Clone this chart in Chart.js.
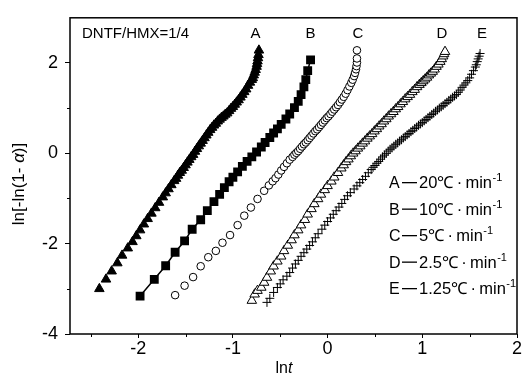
<!DOCTYPE html>
<html>
<head>
<meta charset="utf-8">
<script src="https://cdn.jsdelivr.net/npm/chart.js@4"></script>
<style>
  body { margin: 0; background: #fff; }
</style>
</head>
<body>
<canvas id="chart" width="527" height="376"></canvas>
<script>
// curve names and heating rates (°C/min)
const curveNames = ['A', 'B', 'C', 'D', 'E'];
const heatingRates = ['20', '10', '5', '2.5', '1.25'];
const xTicks = [-2.5, -2, -1.5, -1, -0.5, 0, 0.5, 1, 1.5, 2];
const yTicks = [-4, -3, -2, -1, 0, 1, 2];

// [ln t, ln[-ln(1-a)]]
const seriesA = [[-2.41,-3.00],[-2.34,-2.79],[-2.28,-2.61],[-2.22,-2.43],[-2.17,-2.26],[-2.11,-2.10],
  [-2.06,-1.96],[-2.02,-1.83],[-1.98,-1.70],[-1.94,-1.57],[-1.90,-1.45],[-1.86,-1.33],[-1.82,-1.21],
  [-1.78,-1.09],[-1.74,-0.97],[-1.71,-0.88],[-1.68,-0.79],[-1.65,-0.70],[-1.62,-0.61],[-1.60,-0.56],
  [-1.58,-0.49],[-1.56,-0.43],[-1.54,-0.38],[-1.52,-0.32],[-1.50,-0.26],[-1.48,-0.20],[-1.46,-0.14],
  [-1.44,-0.08],[-1.42,-0.03],[-1.40,0.04],[-1.38,0.10],[-1.36,0.16],[-1.34,0.22],[-1.32,0.28],
  [-1.30,0.34],[-1.28,0.40],[-1.26,0.46],[-1.24,0.52],[-1.22,0.57],[-1.20,0.62],[-1.18,0.66],
  [-1.16,0.71],[-1.14,0.75],[-1.12,0.79],[-1.10,0.82],[-1.08,0.86],[-1.06,0.89],[-1.04,0.94],
  [-1.02,0.99],[-1.00,1.03],[-0.98,1.08],[-0.96,1.13],[-0.94,1.18],[-0.92,1.24],[-0.90,1.30],
  [-0.88,1.36],[-0.86,1.42],[-0.84,1.50],[-0.82,1.57],[-0.80,1.63],[-0.79,1.67],[-0.78,1.73],
  [-0.77,1.79],[-0.76,1.85],[-0.75,1.92],[-0.745,1.98],[-0.74,2.04],[-0.735,2.11],[-0.73,2.18],
  [-0.725,2.28]];

const seriesB = [[-1.98,-3.16],[-1.83,-2.79],[-1.71,-2.49],[-1.61,-2.19],[-1.51,-1.94],[-1.43,-1.68],
  [-1.34,-1.47],[-1.27,-1.27],[-1.20,-1.07],[-1.14,-0.91],[-1.09,-0.76],[-1.04,-0.63],[-1.00,-0.53],
  [-0.95,-0.41],[-0.90,-0.29],[-0.85,-0.18],[-0.80,-0.08],[-0.75,0.03],[-0.70,0.14],[-0.66,0.24],
  [-0.61,0.35],[-0.57,0.45],[-0.53,0.54],[-0.49,0.64],[-0.44,0.76],[-0.40,0.87],[-0.35,1.01],
  [-0.31,1.15],[-0.28,1.30],[-0.25,1.47],[-0.23,1.63],[-0.21,1.83],[-0.18,2.07]];

const seriesC = [[-1.61,-3.14],[-1.51,-2.93],[-1.42,-2.74],[-1.34,-2.50],[-1.26,-2.30],[-1.18,-2.16],
  [-1.11,-1.98],[-1.03,-1.81],[-0.95,-1.59],[-0.88,-1.38],[-0.81,-1.20],[-0.74,-1.01],[-0.67,-0.83],
  [-0.62,-0.71],[-0.58,-0.62],[-0.55,-0.55],[-0.52,-0.47],[-0.49,-0.38],[-0.46,-0.30],[-0.43,-0.22],
  [-0.40,-0.14],[-0.37,-0.08],[-0.35,-0.03],[-0.33,0.01],[-0.31,0.05],[-0.29,0.10],[-0.27,0.15],
  [-0.25,0.20],[-0.23,0.24],[-0.21,0.29],[-0.19,0.34],[-0.17,0.39],[-0.15,0.44],[-0.13,0.49],
  [-0.11,0.53],[-0.09,0.58],[-0.07,0.63],[-0.05,0.68],[-0.03,0.73],[-0.01,0.78],[0.01,0.82],
  [0.03,0.87],[0.05,0.92],[0.07,0.97],[0.09,1.02],[0.11,1.07],[0.13,1.13],[0.15,1.19],[0.17,1.25],
  [0.19,1.32],[0.21,1.40],[0.23,1.48],[0.25,1.56],[0.265,1.63],[0.28,1.71],[0.29,1.78],[0.30,1.86],
  [0.305,1.93],[0.31,2.01],[0.31,2.10],[0.31,2.28]];

const seriesD = [[-0.80,-3.26],[-0.77,-3.12],[-0.74,-3.04],[-0.70,-2.97],[-0.67,-2.86],[-0.64,-2.75],
  [-0.60,-2.61],[-0.57,-2.50],[-0.53,-2.39],[-0.49,-2.28],[-0.46,-2.16],[-0.42,-2.04],[-0.38,-1.92],
  [-0.35,-1.81],[-0.31,-1.70],[-0.28,-1.59],[-0.24,-1.47],[-0.21,-1.35],[-0.17,-1.23],[-0.14,-1.12],
  [-0.10,-1.01],[-0.07,-0.91],[-0.03,-0.81],[0.00,-0.72],[0.04,-0.62],[0.07,-0.53],[0.11,-0.43],
  [0.145,-0.33],[0.17,-0.26],[0.195,-0.19],[0.22,-0.13],[0.245,-0.06],[0.27,0.00],[0.295,0.05],
  [0.32,0.11],[0.345,0.16],[0.37,0.22],[0.395,0.27],[0.42,0.33],[0.445,0.38],[0.47,0.43],[0.495,0.49],
  [0.52,0.54],[0.545,0.60],[0.57,0.65],[0.595,0.71],[0.62,0.76],[0.645,0.82],[0.67,0.87],[0.695,0.92],
  [0.72,0.98],[0.745,1.03],[0.77,1.09],[0.795,1.14],[0.82,1.20],[0.845,1.25],[0.87,1.30],[0.895,1.36],
  [0.92,1.41],[0.945,1.47],[0.97,1.52],[0.99,1.56],[1.01,1.60],[1.03,1.64],[1.05,1.68],[1.07,1.73],
  [1.09,1.77],[1.11,1.81],[1.13,1.86],[1.15,1.92],[1.17,1.97],[1.19,2.03],[1.205,2.09],[1.22,2.15],
  [1.23,2.20],[1.24,2.25]];

const seriesE = [[-0.64,-3.30],[-0.61,-3.21],[-0.57,-3.08],[-0.53,-2.97],[-0.50,-2.89],[-0.47,-2.80],
  [-0.43,-2.72],[-0.40,-2.64],[-0.37,-2.54],[-0.34,-2.45],[-0.31,-2.37],[-0.28,-2.28],[-0.25,-2.20],
  [-0.22,-2.12],[-0.19,-2.04],[-0.16,-1.96],[-0.13,-1.87],[-0.10,-1.78],[-0.06,-1.68],[-0.03,-1.59],
  [0.00,-1.51],[0.03,-1.43],[0.06,-1.35],[0.09,-1.27],[0.12,-1.19],[0.15,-1.11],[0.18,-1.02],
  [0.21,-0.94],[0.24,-0.87],[0.28,-0.79],[0.31,-0.72],[0.34,-0.65],[0.37,-0.58],[0.40,-0.51],
  [0.43,-0.43],[0.46,-0.36],[0.48,-0.31],[0.50,-0.27],[0.52,-0.22],[0.54,-0.18],[0.56,-0.13],
  [0.58,-0.08],[0.60,-0.04],[0.62,0.00],[0.64,0.05],[0.66,0.09],[0.68,0.12],[0.70,0.16],[0.72,0.20],
  [0.74,0.23],[0.76,0.27],[0.78,0.30],[0.80,0.34],[0.82,0.37],[0.84,0.41],[0.86,0.44],[0.88,0.48],
  [0.90,0.51],[0.92,0.55],[0.94,0.58],[0.96,0.62],[0.98,0.65],[1.00,0.68],[1.02,0.72],[1.04,0.75],
  [1.06,0.79],[1.08,0.82],[1.10,0.86],[1.12,0.89],[1.14,0.93],[1.16,0.96],[1.18,1.00],[1.20,1.03],
  [1.22,1.06],[1.24,1.10],[1.26,1.13],[1.28,1.17],[1.30,1.20],[1.32,1.24],[1.34,1.27],[1.36,1.30],
  [1.38,1.35],[1.40,1.40],[1.42,1.46],[1.44,1.51],[1.46,1.56],[1.48,1.61],[1.50,1.67],[1.52,1.75],
  [1.54,1.83],[1.56,1.91],[1.57,1.96],[1.58,2.03],[1.59,2.09],[1.60,2.15],[1.61,2.21]];

const allSeries = [seriesA, seriesB, seriesC, seriesD, seriesE];
const FONT = '"Liberation Sans", Arial, sans-serif';

const toPoints = s => s.map(([x, y]) => ({ x, y }));

// frame, minor ticks and all the annotation text
const decorPlugin = {
  id: 'decor',
  afterDraw(chart) {
    const { ctx, chartArea: a } = chart;
    const x = chart.scales.x, y = chart.scales.y;
    ctx.save();
    ctx.strokeStyle = '#000';
    ctx.lineWidth = 1.5;
    ctx.strokeRect(a.left, a.top, a.right - a.left, a.bottom - a.top);

    ctx.lineWidth = 1;
    xTicks.filter(v => !Number.isInteger(v)).forEach(v => {
      const px = Math.round(x.getPixelForValue(v)) + 0.5;
      ctx.beginPath(); ctx.moveTo(px, a.bottom); ctx.lineTo(px, a.bottom + 3); ctx.stroke();
    });
    yTicks.filter(v => v % 2 !== 0).forEach(v => {
      const py = Math.round(y.getPixelForValue(v)) + 0.5;
      ctx.beginPath(); ctx.moveTo(a.left, py); ctx.lineTo(a.left - 3, py); ctx.stroke();
    });

    ctx.fillStyle = '#000';
    ctx.textBaseline = 'alphabetic';
    ctx.font = '15px ' + FONT;
    ctx.textAlign = 'left';
    ctx.fillText('DNTF/HMX=1/4', 82, 38);

    // curve tags above the end of each curve
    const tagShift = [-3.5, 0, 1, -3, 2];
    ctx.textAlign = 'center';
    allSeries.forEach((s, i) => {
      const last = s[s.length - 1];
      ctx.fillText(curveNames[i], x.getPixelForValue(last[0]) + tagShift[i], 38);
    });

    // heating-rate key
    ctx.textAlign = 'left';
    curveNames.forEach((n, i) => {
      const by = 188 + i * 26.5;
      let cx = 389;
      ctx.font = '16px ' + FONT;
      ctx.fillText(n, cx, by);
      ctx.fillRect(cx + 13, by - 6, 15, 1.3);
      cx += 30;
      ctx.font = '16.5px ' + FONT;
      const main = heatingRates[i] + '℃\u2009·\u2009min';
      ctx.fillText(main, cx, by);
      cx += ctx.measureText(main).width + 0.5;
      ctx.font = '11px ' + FONT;
      ctx.fillText('-1', cx, by - 7);
    });

    // x title: ln t
    ctx.font = '16px ' + FONT;
    const w1 = ctx.measureText('ln').width;
    ctx.font = 'italic 16px ' + FONT;
    const w2 = ctx.measureText('t').width;
    const sx = 284 - (w1 + w2) / 2;
    ctx.font = '16px ' + FONT;
    ctx.fillText('ln', sx, 373);
    ctx.font = 'italic 16px ' + FONT;
    ctx.fillText('t', sx + w1, 373);

    // y title: ln[-ln(1- a)]
    ctx.translate(24, 184);
    ctx.rotate(-Math.PI / 2);
    const parts = [['ln[-ln(1- ', ''], ['α', 'italic '], [')]', '']];
    let total = 0;
    parts.forEach(p => { ctx.font = p[1] + '17px ' + FONT; total += ctx.measureText(p[0]).width; });
    let tx = -total / 2;
    parts.forEach(p => {
      ctx.font = p[1] + '17px ' + FONT;
      ctx.fillText(p[0], tx, 0);
      tx += ctx.measureText(p[0]).width;
    });
    ctx.restore();
  }
};

const commonPoint = { borderColor: '#000', borderWidth: 1, showLine: false };

new Chart(document.getElementById('chart'), {
  type: 'scatter',
  data: {
    datasets: [
      { ...commonPoint, label: 'A', data: toPoints(seriesA), pointStyle: 'triangle', pointRadius: 5.5, backgroundColor: '#000' },
      { ...commonPoint, label: 'B', data: toPoints(seriesB), pointStyle: 'rect', pointRadius: 5.2, backgroundColor: '#000', showLine: true, borderWidth: 1.5 },
      { ...commonPoint, label: 'C', data: toPoints(seriesC), pointStyle: 'circle', pointRadius: 3.8, backgroundColor: '#fff' },
      { ...commonPoint, label: 'D', data: toPoints(seriesD), pointStyle: 'triangle', pointRadius: 5.5, backgroundColor: '#fff' },
      { ...commonPoint, label: 'E', data: toPoints(seriesE), pointStyle: 'cross', pointRadius: 4.5, backgroundColor: '#000' }
    ]
  },
  options: {
    responsive: false,
    animation: false,
    devicePixelRatio: 1,
    layout: { padding: { left: 0, top: 13, right: 10, bottom: 0 } },
    plugins: { legend: { display: false }, tooltip: { enabled: false } },
    scales: {
      x: {
        type: 'linear', min: -2.72, max: 2,
        afterBuildTicks: s => { s.ticks = xTicks.map(v => ({ value: v })); },
        afterFit: s => { s.height = 42; },
        border: { display: false },
        grid: { drawOnChartArea: false, tickLength: 4,
          tickColor: c => Number.isInteger(c.tick.value) ? '#000' : 'rgba(0,0,0,0)' },
        ticks: { padding: 0, color: '#000', font: { family: FONT, size: 18 },
          maxRotation: 0, autoSkip: false,
          callback: v => Number.isInteger(v) ? String(v) : '' }
      },
      y: {
        type: 'linear', min: -4, max: 3,
        afterBuildTicks: s => { s.ticks = yTicks.map(v => ({ value: v })); },
        afterFit: s => { s.width = 70; },
        border: { display: false },
        grid: { drawOnChartArea: false, tickLength: 5,
          tickColor: c => c.tick.value % 2 === 0 ? '#000' : 'rgba(0,0,0,0)' },
        ticks: { padding: 7, color: '#000', font: { family: FONT, size: 18 },
          autoSkip: false,
          callback: v => v % 2 === 0 ? String(v) : '' }
      }
    }
  },
  plugins: [decorPlugin]
});
</script>
</body>
</html>
